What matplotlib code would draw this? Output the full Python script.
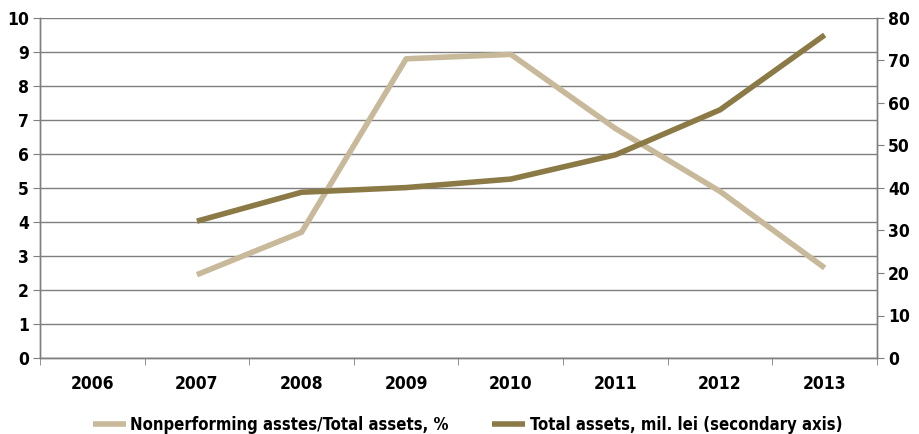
import matplotlib
matplotlib.use("Agg")
import matplotlib.pyplot as plt

years = ["2006", "2007", "2008", "2009", "2010", "2011", "2012", "2013"]
npl_years = ["2007", "2008", "2009", "2010", "2011", "2012", "2013"]
npl_ratio = [2.45, 3.7, 8.8, 8.93, 6.75, 4.9, 2.65]
total_assets = [32.2, 39.0, 40.1, 42.1, 47.8, 58.4, 76.0]

plt.rcParams["font.family"] = ["DejaVu Sans"]
plt.rcParams["font.stretch"] = "condensed"
plt.rcParams["font.weight"] = "bold"
plt.rcParams["font.size"] = 12.5

light = "#c7b999"
dark = "#8b7a45"
grid = "#7f7f7f"

fig = plt.figure(figsize=(9.2, 4.34), dpi=100)
ax = fig.add_axes([40 / 920, 1 - 358 / 434, 837 / 920, 340 / 434])
ax2 = ax.twinx()

x_pos = {y: i for i, y in enumerate(years)}
xs = [x_pos[y] for y in npl_years]

l1, = ax.plot(xs, npl_ratio, color=light, lw=4, solid_capstyle="butt",
              label="Nonperforming asstes/Total assets, %")
l2, = ax2.plot(xs, total_assets, color=dark, lw=4, solid_capstyle="butt",
               label="Total assets, mil. lei (secondary axis)")

ax.set_xlim(-0.5, len(years) - 0.5)
ax.set_ylim(0, 10)
ax.set_yticks(range(0, 11))
ax2.set_ylim(0, 80)
ax2.set_yticks(range(0, 81, 10))

ax.set_xticks(range(len(years)))
ax.set_xticklabels(years)
ax.set_xticks([i - 0.5 for i in range(len(years) + 1)], minor=True)
ax.tick_params(axis="x", which="major", length=0, pad=12)
ax.tick_params(axis="x", which="minor", length=5, color=grid, direction="out")
ax.tick_params(axis="y", length=5, color=grid, pad=3)
ax2.tick_params(axis="y", length=5, color=grid, pad=3)

ax.yaxis.grid(True, color=grid, lw=1)
ax.set_axisbelow(True)

for a in (ax, ax2):
    a.spines["top"].set_visible(False)
    for s in ("left", "right", "bottom"):
        a.spines[s].set_color(grid)
        a.spines[s].set_linewidth(1)

fig.legend(handles=[l1, l2], loc="lower center", ncol=2, frameon=False,
           bbox_to_anchor=(0.508, -0.035), fontsize=12, handlelength=2.0,
           handletextpad=0.25, columnspacing=2.6)

fig.savefig("out.png", dpi=100)
